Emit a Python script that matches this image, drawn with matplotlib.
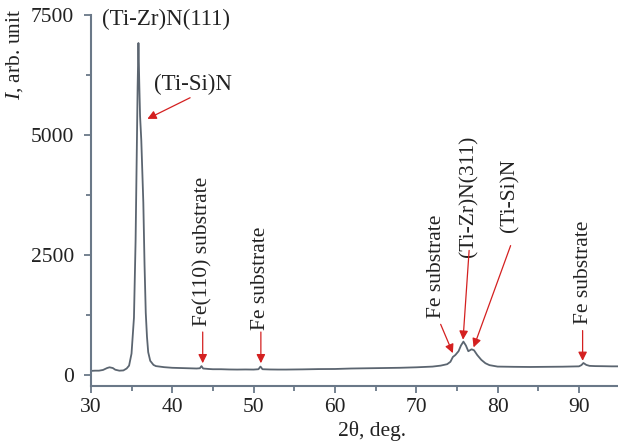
import matplotlib
matplotlib.use('Agg')
import matplotlib.pyplot as plt
from matplotlib.ticker import MultipleLocator

plt.rcParams['font.family'] = ['Liberation Serif', 'DejaVu Serif']
plt.rcParams['mathtext.fontset'] = 'custom'
plt.rcParams['mathtext.rm'] = 'Liberation Serif'
plt.rcParams['mathtext.it'] = 'Liberation Serif:italic'

# XRD pattern
two_theta = [30.0, 30.5, 31.0, 31.5, 32.0, 32.3, 32.7, 33.0, 33.5, 34.0, 34.4, 34.7,
             35.0, 35.3, 35.5, 35.65, 35.75, 35.85, 35.95, 36.05, 36.2, 36.45, 36.6,
             36.75, 36.9, 37.05, 37.3, 37.7, 38.0, 39.0, 40.0, 41.0, 42.0, 43.0, 43.4,
             43.6, 43.8, 44.5, 45.0, 46.0, 47.0, 48.0, 49.0, 50.0, 50.6, 50.85, 51.1,
             52.0, 53.0, 54.0, 55.0, 56.0, 57.0, 58.0, 60.0, 62.0, 64.0, 66.0, 68.0,
             70.0, 72.0, 73.0, 73.8, 74.2, 74.5, 74.8, 75.2, 75.5, 75.8, 76.1, 76.4,
             76.8, 77.1, 77.5, 78.0, 78.5, 79.0, 80.0, 82.0, 84.0, 86.0, 88.0, 90.0,
             90.3, 90.55, 90.9, 91.3, 92.0, 93.0, 94.0, 95.0]
intensity = [90, 95, 95, 110, 150, 165, 150, 115, 95, 100, 140, 200,
             450, 1200, 2800, 4700, 6000, 6920, 6100, 5400, 4900, 3600, 2300,
             1300, 800, 480, 300, 215, 190, 168, 155, 150, 145, 140, 145,
             190, 140, 130, 125, 125, 120, 118, 120, 118, 125, 180, 125,
             120, 118, 118, 120, 122, 125, 128, 130, 140, 145, 150, 155,
             165, 180, 200, 230, 280, 380, 420, 500, 620, 700, 620, 500,
             540, 520, 420, 320, 250, 210, 180, 175, 172, 175, 178, 185,
             210, 255, 215, 195, 190, 188, 185, 185]

# annotations: text, text position, arrow tip / tail (None = no arrow), rotation
labels = ['(Ti-Zr)N(111)', '(Ti-Si)N', 'Fe(110) substrate', 'Fe substrate',
          'Fe substrate', '(Ti-Zr)N(311)', '(Ti-Si)N', 'Fe substrate']
label_xy = [(39.2, 7420), (42.55, 6050), (43.75, 2580), (50.9, 2020),
            (72.45, 2270), (76.5, 3720), (81.5, 3740), (90.6, 2140)]
tip_xy = [None, (36.95, 5340), (43.75, 250), (50.9, 250),
          (74.5, 460), (75.75, 740), (77.05, 580), (90.45, 300)]
tail_xy = [None, (42.2, 5780), (43.75, 900), (50.9, 900),
           (73.0, 1060), (76.5, 2600), (81.6, 2700), (90.45, 930)]
rot = [0, 0, 90, 90, 90, 90, 90, 90]

fig = plt.figure(figsize=(6.18, 4.46), dpi=100)
ax = fig.add_axes([0.147, 0.135, 0.853, 0.831])

ax.plot(two_theta, intensity, color='#5b6570', lw=1.3)

ax.set_xlim(30, 94.8)
ax.set_ylim(-220, 7500)
ax.xaxis.set_major_locator(MultipleLocator(10))
ax.xaxis.set_minor_locator(MultipleLocator(5))
ax.yaxis.set_major_locator(MultipleLocator(2500))
ax.yaxis.set_minor_locator(MultipleLocator(1250))

spine_c = '#6a7888'
for s in ['top', 'right']:
    ax.spines[s].set_visible(False)
for s in ['left', 'bottom']:
    ax.spines[s].set_color(spine_c)
    ax.spines[s].set_linewidth(1.5)
ax.tick_params(which='both', direction='out', color=spine_c, width=1.3,
               labelsize=15.5, labelcolor='#222222')
ax.tick_params(which='major', length=5)
ax.tick_params(axis='y', which='major', pad=7)
ax.tick_params(which='minor', length=3.5)

ax.set_xlabel('2θ, deg.', fontsize=15.5, color='#222222')
ax.xaxis.set_label_coords(0.533, -0.095)
ax.set_ylabel(r'$\mathit{I}$, arb. unit', fontsize=15.5, color='#222222',
              ha='center', va='center')
ax.yaxis.set_label_coords(-0.145, 0.895)

red = '#d42020'
for i in range(len(labels)):
    fs = 16.5 if rot[i] == 0 else 15.5
    ax.text(label_xy[i][0], label_xy[i][1], labels[i], rotation=rot[i],
            ha='center', va='center', fontsize=fs, color='#222222')
    if tip_xy[i] is not None:
        ax.annotate('', xy=tip_xy[i], xytext=tail_xy[i],
                    arrowprops=dict(arrowstyle='-|>', color=red, lw=0.9,
                                    mutation_scale=13, shrinkA=0, shrinkB=0))

fig.savefig('out.png', dpi=100)
